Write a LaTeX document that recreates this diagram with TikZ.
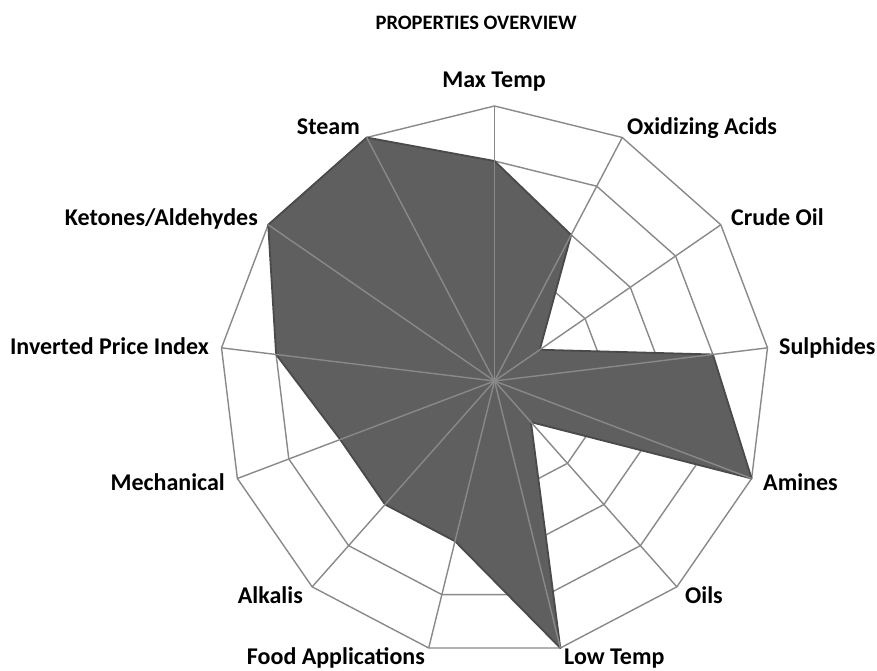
\documentclass[tikz,border=0pt]{standalone}
\usepackage{fontspec}
\setmainfont{Carlito}
\usepackage{tikz}

\definecolor{gridgray}{HTML}{898989}
\definecolor{areagray}{HTML}{5F5F5F}
\definecolor{areaedge}{HTML}{4A4A4A}

\begin{document}
\begin{tikzpicture}[x=1pt, y=1pt,
  ring/.style={draw=gridgray, line width=1.4pt, line join=round},
  spoke/.style={draw=gridgray, line width=1.4pt},
  area/.style={fill=areagray, draw=areaedge, line width=1.8pt, line join=round},
  lbl/.style={font=\bfseries\fontsize{24}{28}\selectfont, inner sep=0pt},
  ttl/.style={font=\bfseries\fontsize{20.5}{24}\selectfont, inner sep=0pt}]
  \useasboundingbox (0,0) rectangle (877,671);

  \coordinate (O) at (494.5,290);
  \begin{scope}[shift={(O)}]
    % axis tips
    \foreach \i in {0,...,12}
      \coordinate (a\i) at (90-\i*360/13:275);
    % rings
    \foreach \r in {55,110,165,220,275}
      \draw[ring] (90:\r) \foreach \i in {1,...,12} { -- (90-\i*360/13:\r) } -- cycle;
    % values
    \draw[area] (90:220) \foreach \v [count=\i] in {3,1,4,5,1,5,3,3,3,4,5,5}
      { -- (90-\i*360/13:\v*55) } -- cycle;
    % spokes
    \foreach \i in {0,...,12}
      \draw[spoke] (O) -- (a\i);
  \end{scope}

  \node (title) [ttl, anchor=base east] at (577,641.7) {PROPERTIES OVERVIEW};
  \node (maxtemp) [lbl, anchor=base] at (494,583) {Max Temp};
  \node (oxacid) [lbl, anchor=base west] at (627,536) {Oxidizing Acids};
  \node (crude) [lbl, anchor=base west] at (731,445) {Crude Oil};
  \node (sulph) [lbl, anchor=base west] at (779,316) {Sulphides};
  \node (amines) [lbl, anchor=base west] at (763,180) {Amines};
  \node (oils) [lbl, anchor=base west] at (685,67) {Oils};
  \node (lowtemp) [lbl, anchor=base west] at (564,6.5) {Low Temp};
  \node (food) [lbl, anchor=base east] at (425,6.5) {Food Applications};
  \node (alkalis) [lbl, anchor=base east] at (303,67) {Alkalis};
  \node (mech) [lbl, anchor=base east] at (225,180) {Mechanical};
  \node (price) [lbl, anchor=base east] at (209,316) {Inverted Price Index};
  \node (keto) [lbl, anchor=base east] at (258,445) {Ketones/Aldehydes};
  \node (steam) [lbl, anchor=base east] at (360,536) {Steam};
\end{tikzpicture}
\end{document}
